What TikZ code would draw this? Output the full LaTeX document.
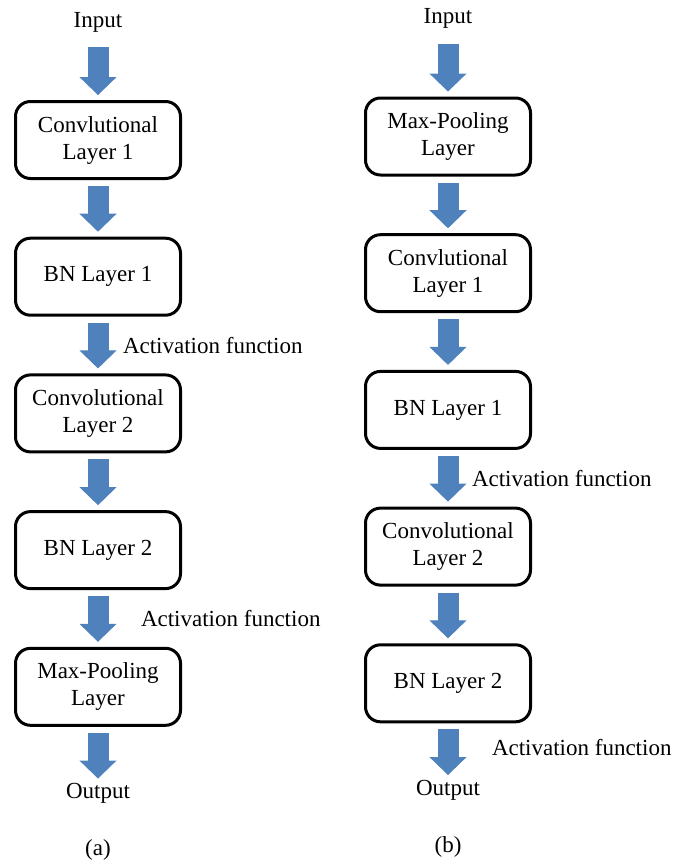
\documentclass[tikz,border=0pt]{standalone}
\usepackage{fontspec}
\setmainfont{Liberation Serif}
\usepackage{xcolor}
\usepackage{tikz}
\usetikzlibrary{arrows.meta,positioning}
\definecolor{arrowblue}{RGB}{79,129,189}

\begin{document}
\begin{tikzpicture}[node distance=56.7pt,
    layer/.style={rectangle, draw, line width=3pt, rounded corners=15pt, minimum width=165pt, minimum height=77pt, align=center, font=\fontsize{23}{27}\selectfont},
    txt/.style={inner sep=0pt, outer sep=0pt, text=black, font=\fontsize{23}{27}\selectfont},
    flow/.style={draw=arrowblue, line width=21pt, -{Triangle[width=37pt,length=18pt,line width=1pt]}, shorten <=6pt, shorten >=5pt}]

    \useasboundingbox (0,0) rectangle (675pt,-863pt);

    % (a)
    \node[layer] (a1) at (98pt,-140pt) {Convlutional\\Layer 1};
    \node[layer, below=of a1] (a2) {BN Layer 1};
    \node[layer, below=of a2] (a3) {Convolutional\\Layer 2};
    \node[layer, below=of a3] (a4) {BN Layer 2};
    \node[layer, below=of a4] (a5) {Max-Pooling\\Layer};

    \node[txt, above=68pt of a1] (ain) {Input};
    \node[txt, below=of a5] (aout) {Output};
    \node[txt, below=36pt of aout] (acap) {(a)};

    \draw[flow, shorten <=15pt] (ain) -- (a1);
    \draw[flow] (a1) -- (a2);
    \draw[flow] (a2) -- node[txt, right=25pt] {Activation function} (a3);
    \draw[flow] (a3) -- (a4);
    \draw[flow] (a4) -- node[txt, right=43pt] {Activation function} (a5);
    \draw[flow] (a5) -- (aout);

    % (b)
    \node[layer] (b1) at (448pt,-136.5pt) {Max-Pooling\\Layer};
    \node[layer, below=of b1] (b2) {Convlutional\\Layer 1};
    \node[layer, below=of b2] (b3) {BN Layer 1};
    \node[layer, below=of b3] (b4) {Convolutional\\Layer 2};
    \node[layer, below=of b4] (b5) {BN Layer 2};

    \node[txt, above=68pt of b1] (bin) {Input};
    \node[txt, below=of b5] (bout) {Output};
    \node[txt, below=36pt of bout] (bcap) {(b)};

    \draw[flow, shorten <=15pt] (bin) -- (b1);
    \draw[flow] (b1) -- (b2);
    \draw[flow] (b2) -- (b3);
    \draw[flow] (b3) -- node[txt, right=24pt] {Activation function} (b4);
    \draw[flow] (b4) -- (b5);
    \draw[flow] (b5) -- node[txt, right=44pt, yshift=4pt] {Activation function} (bout);

\end{tikzpicture}
\end{document}
